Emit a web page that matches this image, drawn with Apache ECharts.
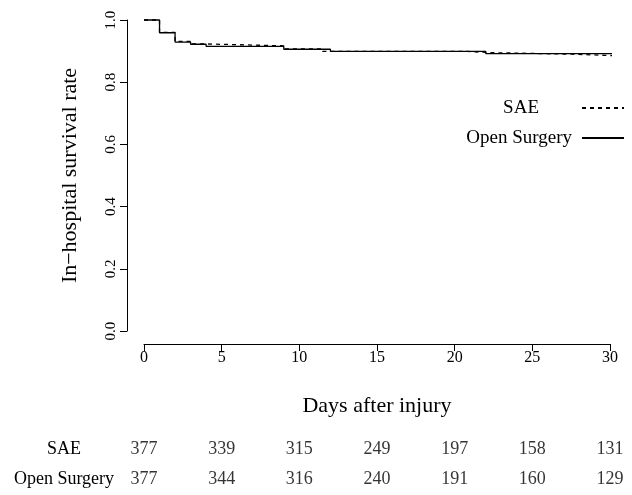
<!DOCTYPE html>
<html>
<head>
<meta charset="utf-8">
<script src="https://cdn.jsdelivr.net/npm/echarts@6/dist/echarts.min.js"></script>
<style>
html,body{margin:0;padding:0;background:#fff;}
#chart{width:632px;height:495px;}
</style>
</head>
<body>
<div id="chart"></div>
<script>
// Kaplan-Meier steps (day, survival)
const openDays = [0, 1, 2, 3, 4, 9, 12, 22, 30.5];
const openSurv = [1.000, 0.959, 0.929, 0.922, 0.915, 0.906, 0.899, 0.892, 0.892];
const saeDays = [0, 1, 2, 3, 4, 9, 11.5, 20.8, 22.4, 27.6, 30.5];
const saeSurv = [1.000, 0.960, 0.931, 0.923, 0.917, 0.907, 0.899, 0.895, 0.890, 0.885, 0.885];

// Number at risk table
const riskDays = [0, 5, 10, 15, 20, 25, 30];
const riskGroups = ['SAE', 'Open Surgery'];
const riskSAE = [377, 339, 315, 249, 197, 158, 131];
const riskOpen = [377, 344, 316, 240, 191, 160, 129];

const FONT = '"Liberation Serif", "DejaVu Serif", serif';

const zip = (a, b) => a.map((v, i) => [v, b[i]]);
const riskData = [];
riskDays.forEach((d, i) => {
  riskData.push([d, riskGroups[0], riskSAE[i]]);
  riskData.push([d, riskGroups[1], riskOpen[i]]);
});

const legendBase = {
  right: 7, padding: 0, orient: 'vertical', align: 'right',
  itemWidth: 42, itemHeight: 20,
  itemStyle: {opacity: 0}
};

const chart = echarts.init(document.getElementById('chart'), null, {renderer: 'canvas'});
chart.setOption({
  animation: false,
  backgroundColor: '#fff',
  grid: [
    {left: 144, right: 22, top: 20, bottom: 164},
    {left: 144, right: 22, top: 434, height: 62}
  ],
  legend: [
    Object.assign({}, legendBase, {
      data: ['SAE'], top: 98,
      textStyle: {fontFamily: FONT, fontSize: 19, color: '#000', lineHeight: 20, padding: [0, 38, 0, 0]}
    }),
    Object.assign({}, legendBase, {
      data: ['Open Surgery'], top: 128,
      textStyle: {fontFamily: FONT, fontSize: 19, color: '#000', lineHeight: 20, padding: [0, 5, 0, 0]}
    })
  ],
  xAxis: [
    {
      type: 'value', gridIndex: 0, min: 0, max: 30, interval: 5, offset: 13,
      name: 'Days after injury', nameLocation: 'middle', nameGap: 51, nameMoveOverlap: false,
      nameTextStyle: {fontFamily: FONT, fontSize: 22, color: '#000'},
      axisLine: {show: true, onZero: false, lineStyle: {color: '#000', width: 1}},
      axisTick: {show: true, length: 7, lineStyle: {color: '#000'}},
      axisLabel: {fontFamily: FONT, fontSize: 16, color: '#000', margin: 6},
      splitLine: {show: false}
    },
    {
      type: 'value', gridIndex: 1, min: 0, max: 30, interval: 5, show: false
    }
  ],
  yAxis: [
    {
      type: 'value', gridIndex: 0, min: 0, max: 1, interval: 0.2, offset: 17,
      name: 'In\u2212hospital survival rate', nameLocation: 'middle', nameGap: 46, nameRotate: 90,
      nameMoveOverlap: false,
      nameTextStyle: {fontFamily: FONT, fontSize: 22, color: '#000'},
      axisLine: {show: true, onZero: false, lineStyle: {color: '#000', width: 1}},
      axisTick: {show: true, length: 7, lineStyle: {color: '#000'}},
      axisLabel: {fontFamily: FONT, fontSize: 15, color: '#000', rotate: 90, margin: 8,
                  formatter: v => v.toFixed(1)},
      splitLine: {show: false}
    },
    {
      type: 'category', gridIndex: 1, data: riskGroups, inverse: true,
      axisLine: {show: false}, axisTick: {show: false}, splitLine: {show: false},
      axisLabel: {fontFamily: FONT, fontSize: 18, color: '#000', align: 'center', margin: 80}
    }
  ],
  series: [
    {
      name: 'SAE', type: 'line', xAxisIndex: 0, yAxisIndex: 0, step: 'end', symbol: 'none',
      clip: false, data: zip(saeDays, saeSurv),
      lineStyle: {color: '#000', width: 1.3, type: [4, 4]}, itemStyle: {color: '#000'}
    },
    {
      name: 'Open Surgery', type: 'line', xAxisIndex: 0, yAxisIndex: 0, step: 'end', symbol: 'none',
      clip: false, data: zip(openDays, openSurv),
      lineStyle: {color: '#000', width: 1.3, type: 'solid'}, itemStyle: {color: '#000'}
    },
    {
      type: 'scatter', xAxisIndex: 1, yAxisIndex: 1, data: riskData,
      encode: {x: 0, y: 1}, symbolSize: 1, itemStyle: {color: 'rgba(0,0,0,0)'},
      label: {show: true, position: 'inside', fontFamily: FONT, fontSize: 18, color: '#000',
              formatter: p => String(p.value[2])},
      silent: true
    }
  ]
});
</script>
</body>
</html>
